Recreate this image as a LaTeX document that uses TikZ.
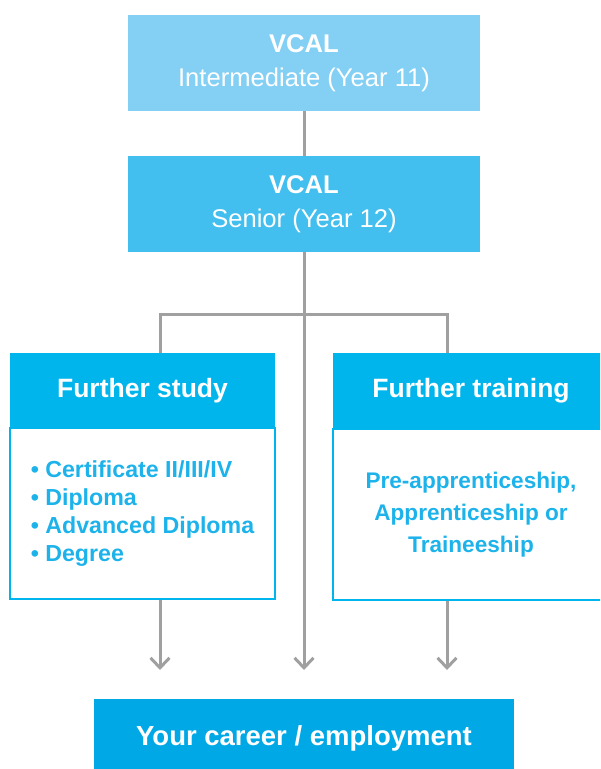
\documentclass[tikz,border=0pt]{standalone}
\usepackage{fontspec}
\setmainfont{Liberation Sans}
\usepackage{tikz}
\usetikzlibrary{arrows.meta}
\definecolor{paleblue}{HTML}{84D0F5}
\definecolor{midblue}{HTML}{42BFEF}
\definecolor{headblue}{HTML}{00B5EC}
\definecolor{baseblue}{HTML}{00A8E6}
\definecolor{textblue}{HTML}{1DB3EA}
\definecolor{linegray}{HTML}{A0A0A0}
\begin{document}
\begin{tikzpicture}[x=0.5pt,y=-0.5pt]
\tikzstyle{vcal}=[minimum width=176pt,minimum height=48pt,inner sep=0pt,align=center,text=white,font=\fontsize{12.8}{16.5}\selectfont]
\tikzstyle{head}=[fill=headblue,text=white,minimum height=37.5pt,inner sep=0pt,font=\bfseries\fontsize{13.25}{16}\selectfont]
\tikzstyle{body}=[draw=headblue,line width=1pt,minimum height=85.5pt,inner sep=0pt,text=textblue]
\tikzstyle{line}=[draw=linegray,line width=1.5pt]
\tikzstyle{arr}=[line,-{Straight Barb[length=5pt,width=9.5pt]}]
\clip (0,0) rectangle (600,769);
\useasboundingbox (0,0) rectangle (600,769);
\node[vcal,fill=paleblue](y11) at (304,63) {\raisebox{-1.5pt}{\bfseries VCAL}\\[0pt]\raisebox{-2pt}{Intermediate (Year 11)}};
\node[vcal,fill=midblue](y12) at (304,204) {\raisebox{-1.5pt}{\bfseries VCAL}\\[0pt]\raisebox{-2pt}{Senior (Year 12)}};
\node[body,minimum width=132.5pt,align=left,font=\bfseries\fontsize{11.6}{14}\selectfont](studybody) at (142.5,513.5)
  {\textbullet\ Certificate II/III/IV\\\textbullet\ Diploma\\\textbullet\ Advanced Diploma\\\textbullet\ Degree};
\node[head,minimum width=132.5pt](study) at (142.5,390.5) {Further study};
\node[body,minimum width=138pt,align=center,font=\bfseries\fontsize{11.3}{16}\selectfont](trainbody) at (471,514.5)
  {Pre-apprenticeship,\\Apprenticeship or\\Traineeship};
\node[head,minimum width=138pt](train) at (471,390.5) {Further training};
\node[fill=baseblue,text=white,minimum width=210pt,minimum height=39pt,inner sep=0pt,font=\bfseries\fontsize{13.75}{16}\selectfont](career) at (304,738) {\raisebox{-1pt}{Your career / employment}};
% junctions and arrow ends
\coordinate (lt) at (160,315);
\coordinate (rt) at (447,315);
\coordinate (la) at (160,670);
\coordinate (ca) at (304,670);
\coordinate (ra) at (447,670);
\draw[line] (y11) -- (y12);
\draw[arr] (y12) -- (ca);
\draw[line] (lt |- study.north) -- (lt) -- (rt) -- (rt |- train.north);
\draw[arr] (la |- studybody.south) -- (la);
\draw[arr] (ra |- trainbody.south) -- (ra);
\end{tikzpicture}
\end{document}
